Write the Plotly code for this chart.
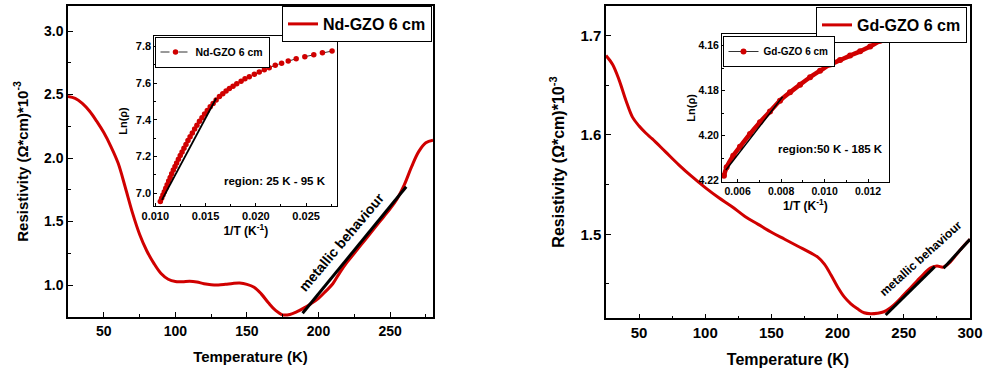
import plotly.graph_objects as go

W, H = 984, 376
F = "Arial, Liberation Sans, sans-serif"
RED = "#d00000"

# ---------------- data ----------------
# Left main panel: Nd-GZO 6 cm
nd_T = [25, 30, 35, 40, 45, 50, 55, 60, 65, 70, 75, 80, 85, 90, 95, 100, 105, 110, 115, 120,
        125, 130, 135, 140, 145, 150, 155, 160, 165, 170, 175, 180, 185, 190, 195, 200, 205,
        210, 215, 220, 225, 230, 235, 240, 245, 250, 255, 260, 265, 270, 275, 280]
nd_rho = [2.485, 2.47, 2.43, 2.37, 2.29, 2.20, 2.09, 1.96, 1.77, 1.57, 1.40, 1.27, 1.17, 1.09,
          1.045, 1.027, 1.026, 1.03, 1.024, 1.01, 1.002, 1.0, 1.005, 1.012, 1.015, 1.005, 0.982,
          0.93, 0.86, 0.80, 0.765, 0.768, 0.79, 0.82, 0.855, 0.895, 0.95, 1.01, 1.10, 1.18,
          1.25, 1.32, 1.39, 1.46, 1.53, 1.60, 1.68, 1.79, 1.93, 2.05, 2.12, 2.14]
nd_fit_T = [188.9, 261.3]
nd_fit_rho = [0.777, 1.774]

# Left inset: Ln(rho) vs 1/T (25 K - 95 K)
nd_invT = [0.01050, 0.01063, 0.01076, 0.01090, 0.01104, 0.01118, 0.01133, 0.01148, 0.01163,
           0.01179, 0.01196, 0.01212, 0.01230, 0.01248, 0.01266, 0.01285, 0.01305, 0.01325,
           0.01346, 0.01368, 0.01391, 0.01414, 0.01439, 0.01464, 0.01490, 0.01517, 0.01546,
           0.01575, 0.01605, 0.01638, 0.01671, 0.01704, 0.01737, 0.01773, 0.01810, 0.01853,
           0.01892, 0.01935, 0.01985, 0.02034, 0.02084, 0.02133, 0.02193, 0.02256, 0.02322,
           0.02401, 0.02487, 0.02576, 0.02662, 0.02758]
nd_lnrho = [6.955, 6.972, 6.990, 7.008, 7.027, 7.046, 7.066, 7.086, 7.106, 7.126, 7.146, 7.165,
            7.185, 7.205, 7.225, 7.245, 7.266, 7.287, 7.308, 7.329, 7.350, 7.371, 7.392, 7.412,
            7.432, 7.452, 7.472, 7.490, 7.508, 7.528, 7.543, 7.558, 7.571, 7.584, 7.597, 7.611,
            7.624, 7.636, 7.649, 7.662, 7.674, 7.685, 7.698, 7.709, 7.722, 7.734, 7.745, 7.756,
            7.767, 7.776]
nd_in_fit_x = [0.01066, 0.01605]
nd_in_fit_y = [6.963, 7.518]

# Right main panel: Gd-GZO 6 cm
gd_T = [25, 30, 35, 40, 45, 50, 55, 60, 70, 80, 90, 100, 110, 120, 130, 140, 150, 160, 170, 180,
        185, 190, 195, 200, 205, 210, 215, 220, 225, 230, 235, 240, 245, 250, 255, 260, 265,
        270, 275, 280, 285, 290, 295, 300]
gd_rho = [1.680, 1.671, 1.655, 1.635, 1.618, 1.609, 1.602, 1.596, 1.583, 1.570, 1.558, 1.547,
          1.537, 1.528, 1.518, 1.510, 1.502, 1.495, 1.488, 1.481, 1.477, 1.470, 1.459, 1.447,
          1.437, 1.430, 1.425, 1.421, 1.420, 1.4205, 1.422, 1.426, 1.432, 1.439, 1.446, 1.453,
          1.460, 1.466, 1.468, 1.467, 1.472, 1.480, 1.488, 1.495]
gd_fit1_T = [236.3, 273.4]
gd_fit1_rho = [1.4187, 1.4674]
gd_fit2_T = [280.0, 300.0]
gd_fit2_rho = [1.4658, 1.495]

# Right inset: Ln(rho) vs 1/T (50 K - 185 K)
gd_invT = [0.005369, 0.005493, 0.005797, 0.006106, 0.006567, 0.007028, 0.007488, 0.007949,
           0.008410, 0.008871, 0.009332, 0.009793, 0.010253, 0.010714, 0.011175, 0.011636,
           0.012097, 0.012558, 0.012940]
gd_lnrho = [4.2178, 4.2140, 4.2089, 4.2049, 4.1992, 4.1940, 4.1892, 4.1844, 4.1807, 4.1773,
            4.1740, 4.1711, 4.1684, 4.1664, 4.1644, 4.1625, 4.1604, 4.1578, 4.1556]
gd_in_fit_x = [0.00546, 0.00807]
gd_in_fit_y = [4.2152, 4.1827]


# ---------------- helpers (reference pixel -> paper fraction) ----------------
def px(p):
    return min(1.0, max(0.0, p / W))


def py(p):
    return min(1.0, max(0.0, 1 - p / H))


def dx(p0, p1):
    return [px(p0), px(p1)]


def dy(top, bottom):
    return [py(bottom), py(top)]


fig = go.Figure()

# Left main
fig.add_trace(go.Scatter(x=nd_T, y=nd_rho, mode="lines", name="Nd-GZO 6 cm",
                         line=dict(color=RED, width=3, shape="spline"),
                         xaxis="x", yaxis="y", legend="legend"))
fig.add_trace(go.Scatter(x=nd_fit_T, y=nd_fit_rho, mode="lines", showlegend=False,
                         line=dict(color="black", width=3), xaxis="x", yaxis="y"))
# Left inset
fig.add_trace(go.Scatter(x=nd_invT, y=nd_lnrho, mode="lines+markers", name="Nd-GZO 6 cm",
                         line=dict(color="#333333", width=1, dash="dash"),
                         marker=dict(color=RED, size=5.5),
                         xaxis="x2", yaxis="y2", legend="legend2"))
fig.add_trace(go.Scatter(x=nd_in_fit_x, y=nd_in_fit_y, mode="lines", showlegend=False,
                         line=dict(color="black", width=1.8), xaxis="x2", yaxis="y2"))
# Right main
fig.add_trace(go.Scatter(x=gd_T, y=gd_rho, mode="lines", name="Gd-GZO 6 cm",
                         line=dict(color=RED, width=3, shape="spline"),
                         xaxis="x3", yaxis="y3", legend="legend3"))
fig.add_trace(go.Scatter(x=gd_fit1_T, y=gd_fit1_rho, mode="lines", showlegend=False,
                         line=dict(color="black", width=3), xaxis="x3", yaxis="y3"))
fig.add_trace(go.Scatter(x=gd_fit2_T, y=gd_fit2_rho, mode="lines", showlegend=False,
                         line=dict(color="black", width=3), xaxis="x3", yaxis="y3"))
# Right inset
fig.add_trace(go.Scatter(x=gd_invT, y=gd_lnrho, mode="lines+markers", name="Gd-GZO 6 cm",
                         line=dict(color="#333333", width=1),
                         marker=dict(color=RED, size=6),
                         xaxis="x4", yaxis="y4", legend="legend4"))
fig.add_trace(go.Scatter(x=gd_invT, y=gd_lnrho, mode="lines", showlegend=False,
                         line=dict(color=RED, width=4.5, shape="spline"),
                         xaxis="x4", yaxis="y4"))
fig.add_trace(go.Scatter(x=gd_in_fit_x, y=gd_in_fit_y, mode="lines", showlegend=False,
                         line=dict(color="black", width=1.5), xaxis="x4", yaxis="y4"))


def axis(domain, rng, dtick, minor, fmt, size, title=None, tsize=14, standoff=10,
         anchor=None, ticklen=5, lw=1.5):
    d = dict(domain=domain, range=rng, dtick=dtick, tick0=0, tickformat=fmt,
             ticks="inside", ticklen=ticklen, tickwidth=1.2, tickcolor="black",
             minor=dict(ticks="inside", ticklen=max(2, ticklen - 2), dtick=minor,
                        tick0=0, tickcolor="black", tickwidth=1),
             showline=True, linecolor="black", linewidth=lw, mirror=True,
             showgrid=False, zeroline=False,
             tickfont=dict(family=F, size=size, color="black", weight="bold"),
             anchor=anchor)
    if title:
        d["title"] = dict(text=title, standoff=standoff,
                          font=dict(family=F, size=tsize, color="black", weight="bold"))
    return d


fig.update_layout(
    width=W, height=H, template="none",
    margin=dict(l=0, r=0, t=0, b=0),
    paper_bgcolor="white", plot_bgcolor="white",
    xaxis=axis(dx(68, 433), [25, 280], 50, 25, "d", 14, "Temperature (K)", 15, 14, "y"),
    yaxis=axis(dy(6, 317), [0.748, 3.197], 0.5, 0.25, ".1f", 14,
               "Resistivity (Ω*cm)*10<sup>-3</sup>", 15, 12, "x"),
    xaxis2=axis(dx(154.3, 337.3), [0.0099, 0.0281], 0.005, 0.0025, ".3f", 11,
                "1/T (K<sup>-1</sup>)", 12, 2, "y2", ticklen=3, lw=1),
    yaxis2=axis(dy(36, 206), [6.93, 7.858], 0.2, 0.1, ".1f", 11, "Ln(ρ)", 11, 5, "x2",
                ticklen=3, lw=1),
    xaxis3=axis(dx(606, 970), [25, 300], 50, 25, "d", 15, "Temperature (K)", 16, 14, "y3"),
    yaxis3=axis(dy(5.7, 318.3), [1.4154, 1.7302], 0.1, 0.05, ".1f", 15,
                "Resistivity (Ω*cm)*10<sup>-3</sup>", 16, 12, "x3"),
    xaxis4=axis(dx(722, 888.7), [0.00528, 0.01295], 0.002, 0.001, ".3f", 10.5,
                "1/T (K<sup>-1</sup>)", 12, 2, "y4", ticklen=3, lw=1),
    yaxis4=axis(dy(34, 181.7), [4.2204, 4.1548], 0.02, 0.01, ".2f", 10.5, "Ln(ρ)", 11, 0,
                "x4", ticklen=3, lw=1),
    legend=dict(x=px(432), y=py(6), xanchor="right", yanchor="top",
                bgcolor="white", bordercolor="black", borderwidth=1,
                font=dict(family=F, size=16, color="black", weight="bold")),
    legend2=dict(x=px(154.5), y=py(36.5), xanchor="left", yanchor="top",
                 bgcolor="white", bordercolor="black", borderwidth=1,
                 font=dict(family=F, size=10.5, color="black", weight="bold")),
    legend3=dict(x=px(967), y=py(7), xanchor="right", yanchor="top",
                 bgcolor="white", bordercolor="black", borderwidth=1,
                 font=dict(family=F, size=16, color="black", weight="bold")),
    legend4=dict(x=px(722.5), y=py(36), xanchor="left", yanchor="top",
                 bgcolor="white", bordercolor="black", borderwidth=1,
                 font=dict(family=F, size=10, color="black", weight="bold")),
    annotations=[
        dict(x=216.2, y=1.336, xref="x", yref="y", text="metallic behaviour",
             showarrow=False, textangle=-50, xanchor="center", yanchor="middle",
             font=dict(family=F, size=14, color="black", weight="bold")),
        dict(x=263.3, y=1.4758, xref="x3", yref="y3", text="metallic behaviour",
             showarrow=False, textangle=-42, xanchor="center", yanchor="middle",
             font=dict(family=F, size=12, color="black", weight="bold")),
        dict(x=0.0219, y=7.069, xref="x2", yref="y2", text="region: 25 K - 95 K",
             showarrow=False, xanchor="center", yanchor="middle",
             font=dict(family=F, size=11.5, color="black", weight="bold")),
        dict(x=0.01025, y=4.206, xref="x4", yref="y4", text="region:50 K - 185 K",
             showarrow=False, xanchor="center", yanchor="middle",
             font=dict(family=F, size=11.5, color="black", weight="bold")),
    ],
)

# remove the default page margin so the 984x376 figure fills the window exactly
fig.write_html("out.html",
               config={"displayModeBar": False},
               post_script="document.body.style.margin='0';"
                           "document.body.style.overflow='hidden';")
